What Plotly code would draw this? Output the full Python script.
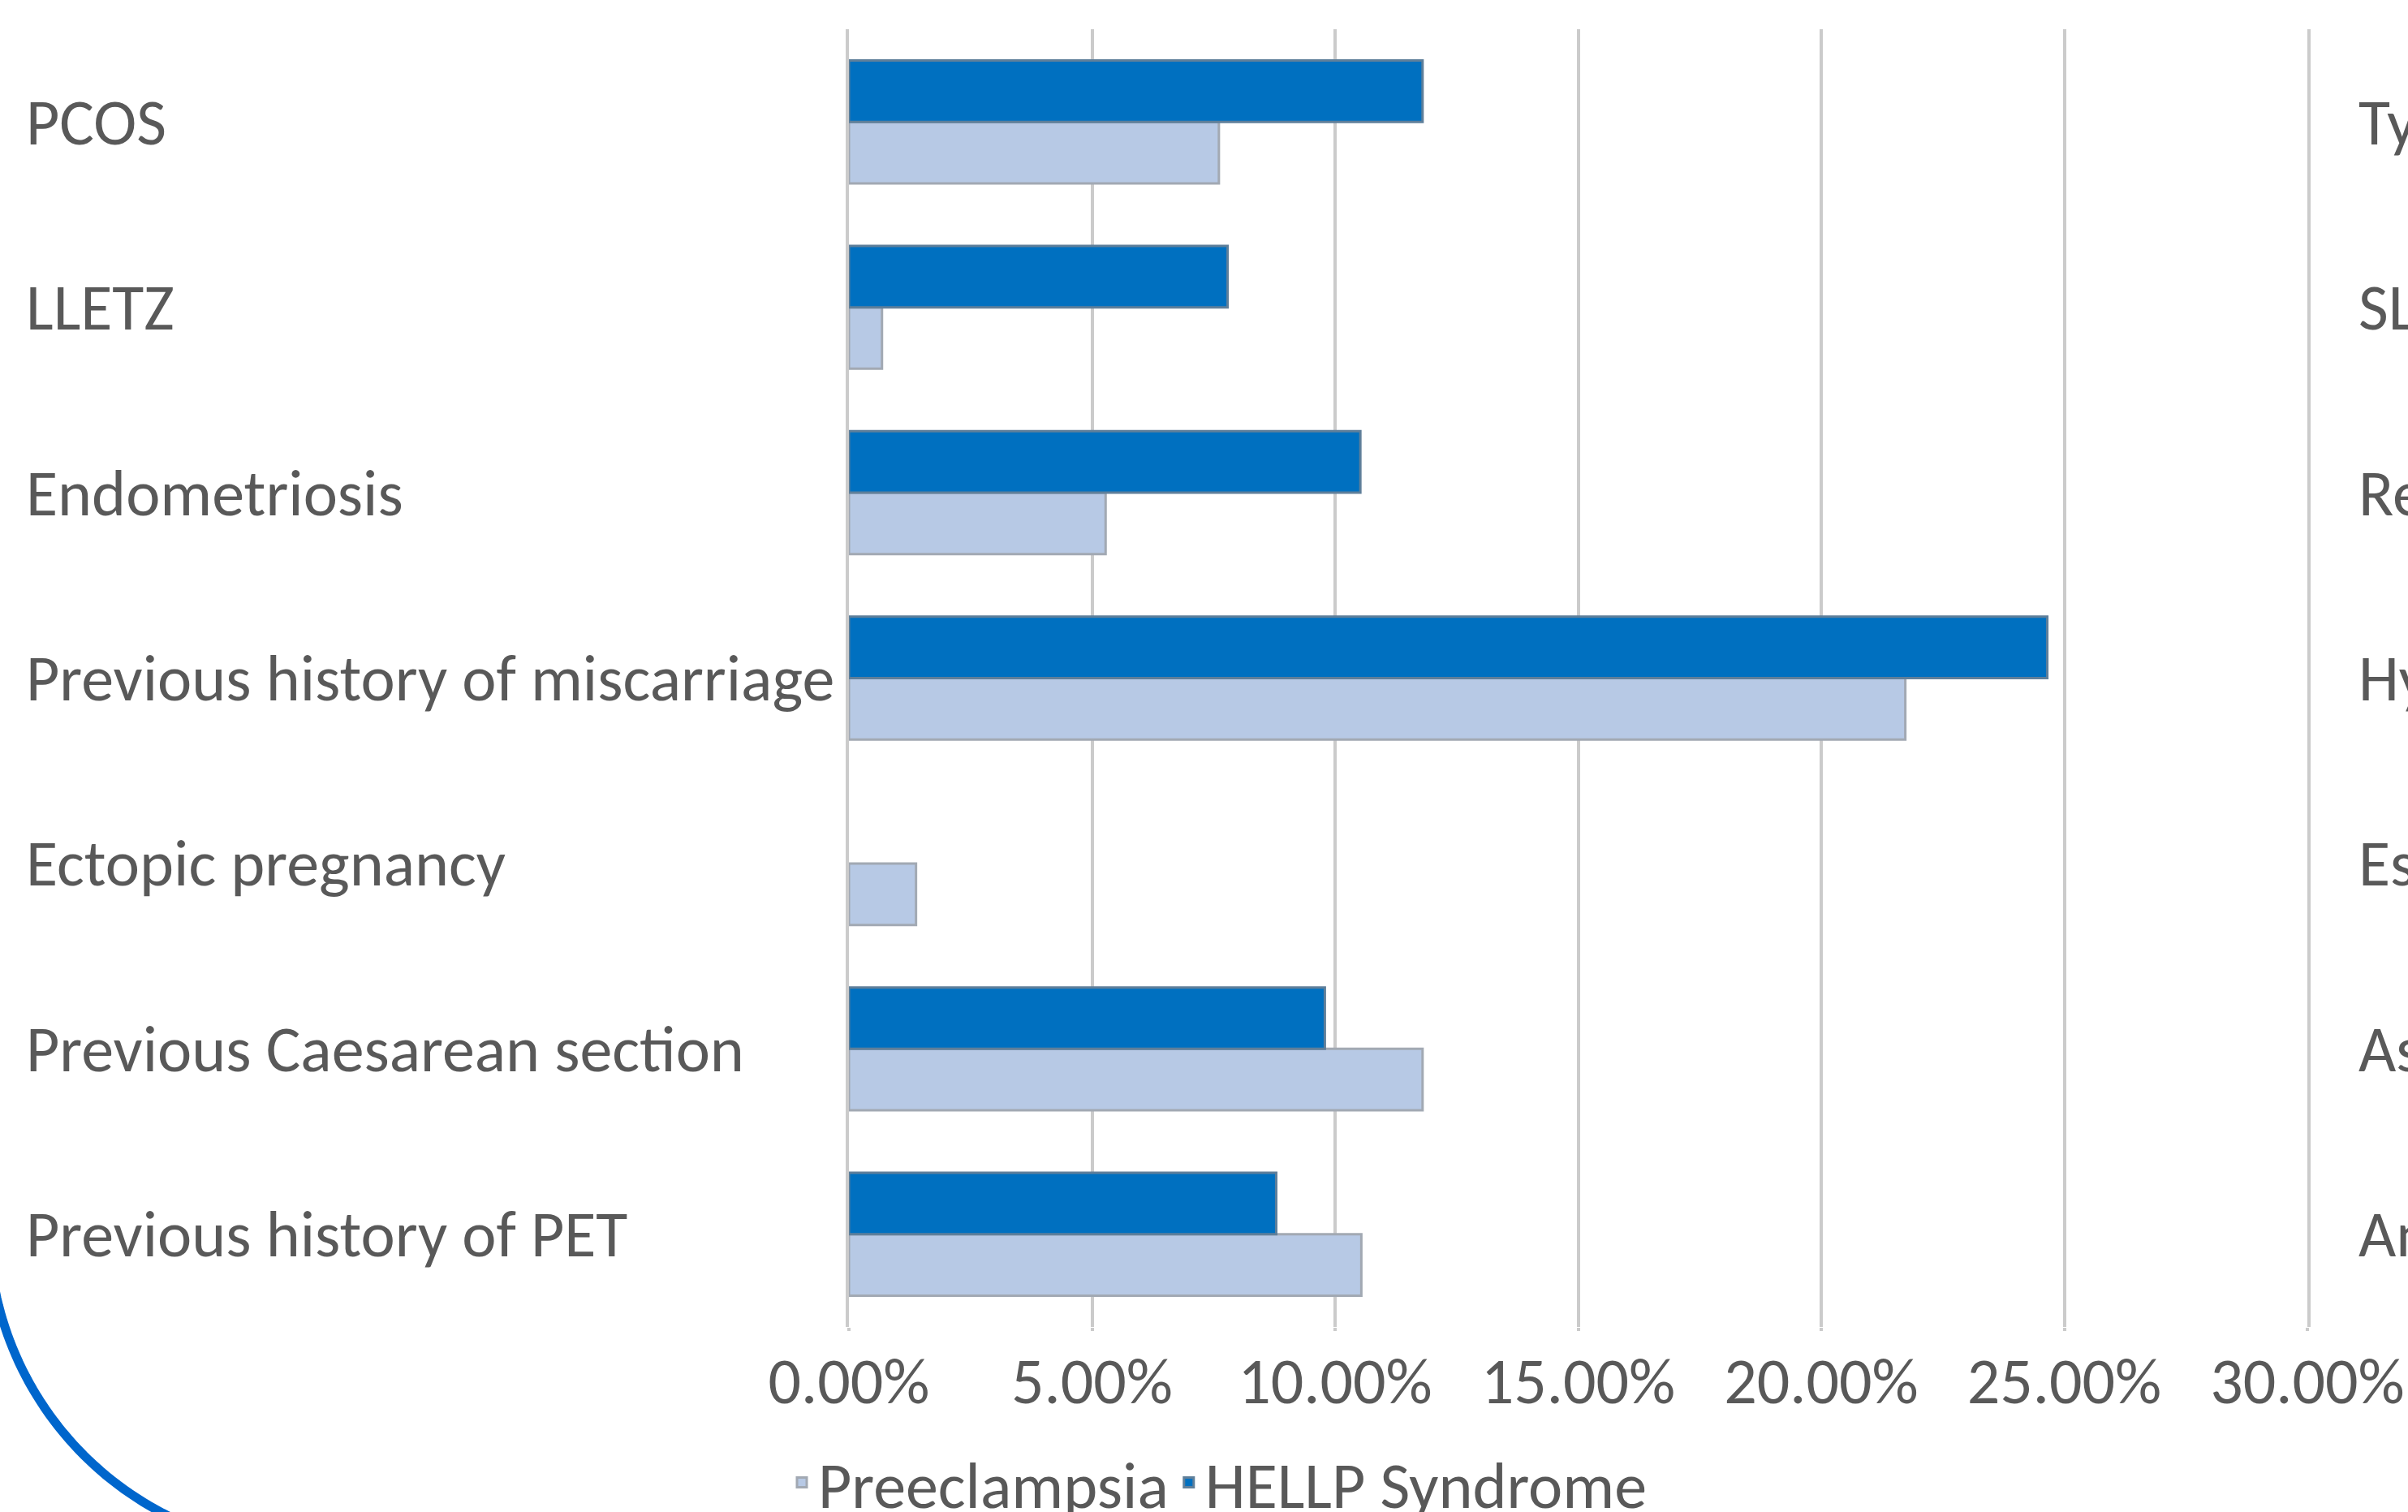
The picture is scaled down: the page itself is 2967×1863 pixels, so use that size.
import math
import plotly.graph_objects as go

# ---- data ----
categories = [
    "PCOS",
    "LLETZ",
    "Endometriosis",
    "Previous history of miscarriage",
    "Ectopic pregnancy",
    "Previous Caesarean section",
    "Previous history of PET",
]
preeclampsia_pct = [7.61, 0.68, 5.28, 21.73, 1.38, 11.80, 10.54]
hellp_pct = [11.80, 7.79, 10.52, 24.65, 0.0, 9.79, 8.79]
x_tick_pct = [0, 5, 10, 15, 20, 25, 30]
right_chart_fragments = ["Ty", "SL", "Re", "Hy", "Es", "As", "An"]

# ---- layout geometry ----
W, H = 2967, 1863
L, R, T, B = 1046, 124, 36, 228
PW, PH = W - L - R, H - T - B

def px2paper_x(px):
    return (px - L) / PW

def px2paper_y(py):
    return (H - B - py) / PH

FONT = "Carlito, Lato, sans-serif"
TXT = "#595959"
GRID = "#CBCBCB"
FS = 80

def outline_widths(values):
    return [3 if v > 0 else 0 for v in values]

fig = go.Figure()
fig.add_trace(go.Bar(
    y=categories, x=[v / 100 for v in preeclampsia_pct], orientation="h",
    name="Preeclampsia",
    marker=dict(color="#B7C9E5",
                line=dict(color="#A2A9B3", width=outline_widths(preeclampsia_pct))),
))
fig.add_trace(go.Bar(
    y=categories, x=[v / 100 for v in hellp_pct], orientation="h",
    name="HELLP Syndrome",
    marker=dict(color="#0070C0",
                line=dict(color="#5F7F9A", width=outline_widths(hellp_pct))),
))

annotations = []
for c in categories:
    annotations.append(dict(
        x=px2paper_x(30), xref="paper", y=c, yref="y", text=c, showarrow=False,
        xanchor="left", yanchor="middle", font=dict(family=FONT, size=FS, color=TXT),
    ))
for c, frag in zip(categories, right_chart_fragments):
    annotations.append(dict(
        x=px2paper_x(2904), xref="paper", y=c, yref="y", text=frag, showarrow=False,
        xanchor="left", yanchor="middle", font=dict(family=FONT, size=FS, color=TXT),
    ))

# decorative blue arc at bottom-left (slide decoration)
cx, cy, rad = 386, 1510, 400
pts = []
for i in range(0, 61):
    a = math.radians(95 + i * (80 / 60))
    px = cx + rad * math.cos(a)
    py = cy + rad * math.sin(a)
    pts.append((px2paper_x(px), px2paper_y(py)))
path = "M " + " L ".join(f"{x:.5f},{y:.5f}" for x, y in pts)

fig.update_layout(
    width=W, height=H,
    margin=dict(l=L, r=R, t=T, b=B, pad=0, autoexpand=False),
    paper_bgcolor="white", plot_bgcolor="white",
    barmode="group", bargap=0.337, bargroupgap=0,
    font=dict(family=FONT, size=FS, color=TXT),
    showlegend=True,
    legend=dict(
        orientation="h", x=px2paper_x(968), xanchor="left",
        y=px2paper_y(1768), yanchor="top",
        font=dict(family=FONT, size=FS, color=TXT),
        itemwidth=30, tracegroupgap=0, bgcolor="rgba(0,0,0,0)",
    ),
    annotations=annotations,
    shapes=[dict(type="path", xref="paper", yref="paper", path=path,
                 line=dict(color="#0066CC", width=11), layer="above")],
)
fig.update_xaxes(
    range=[0, 0.30], tickvals=[v / 100 for v in x_tick_pct], tickformat=".2%",
    showgrid=True, gridcolor=GRID, gridwidth=4, zeroline=False,
    ticks="outside", ticklen=4, tickcolor=GRID, tickwidth=4,
    tickfont=dict(family=FONT, size=FS, color=TXT), ticklabelstandoff=-7,
    showline=False, fixedrange=True,
)
fig.update_yaxes(
    categoryorder="array", categoryarray=categories[::-1],
    showticklabels=False, showgrid=False, zeroline=False,
    showline=True, mirror=True, linecolor=GRID, linewidth=4,
    ticks="",
)

fig.write_html("out.html")
